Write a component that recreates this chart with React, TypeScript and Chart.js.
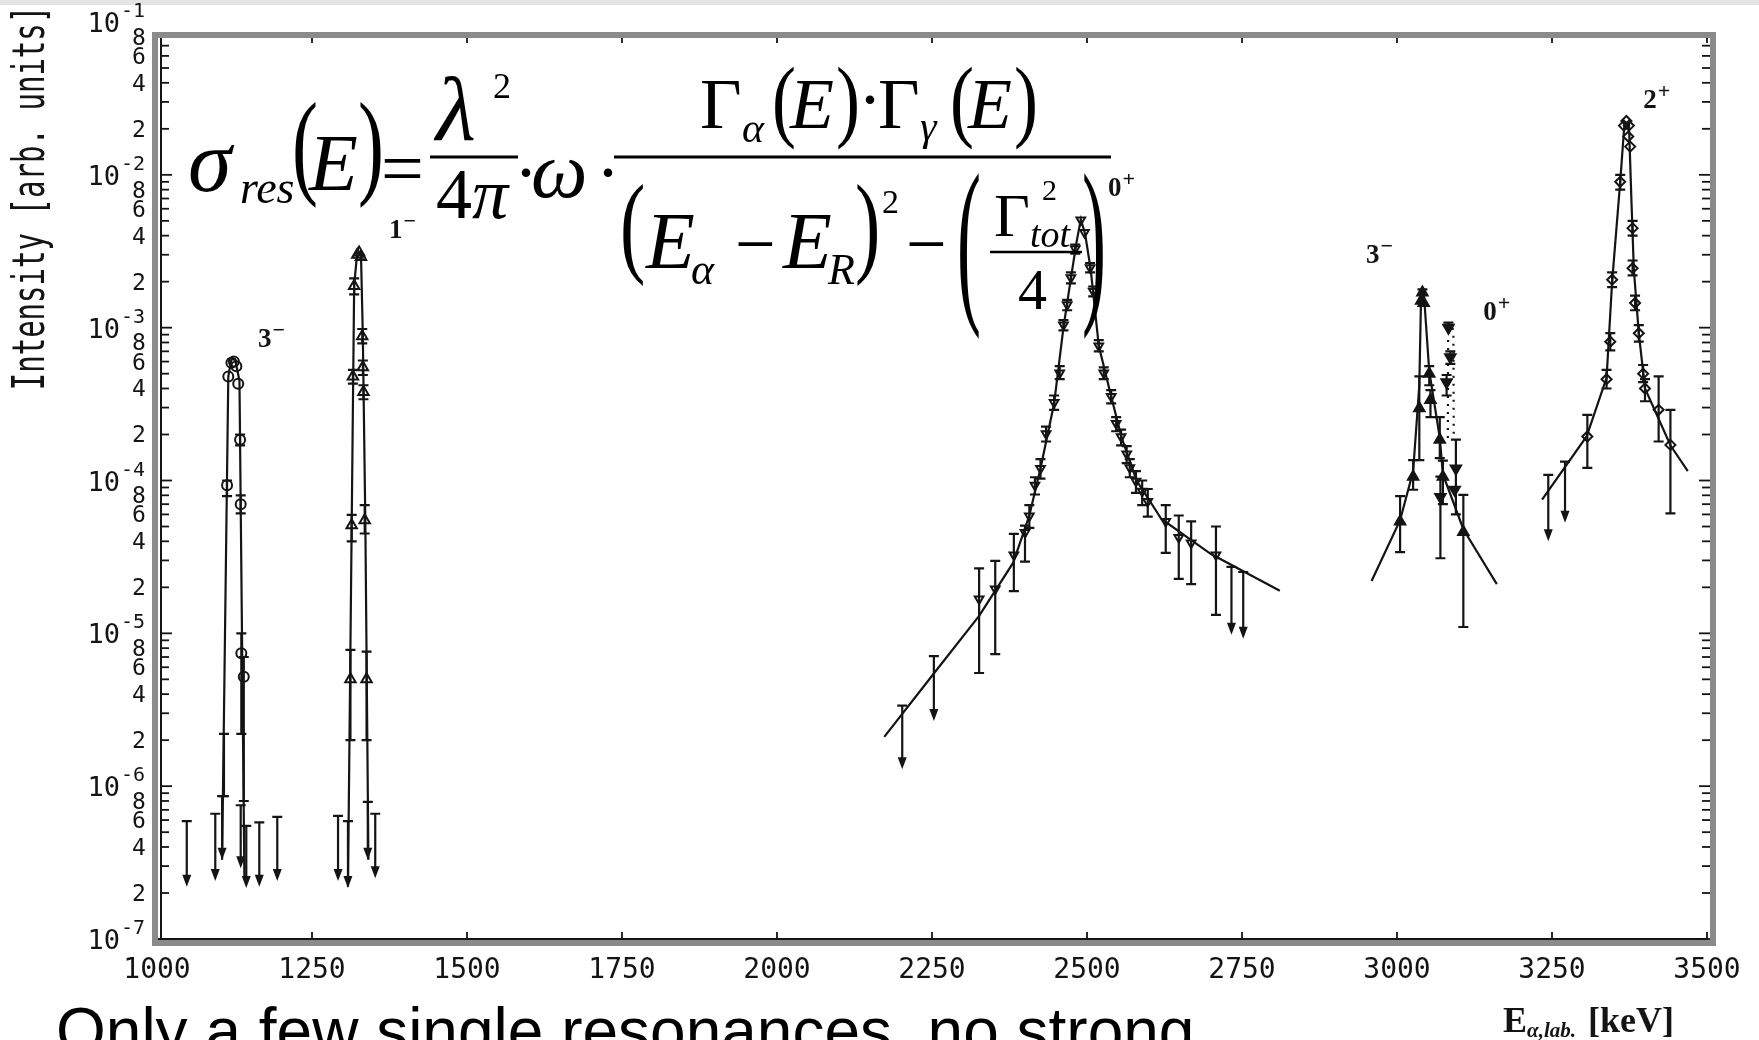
import React, { useEffect, useRef } from "react";
import { Chart, registerables } from "chart.js";

Chart.register(...registerables);

const W = 1759;
const H = 1040;
const INK = "#141414";
const MONO = '"DejaVu Sans Mono", monospace';
const SERIF = '"Liberation Serif", "Times New Roman", serif';
const SANS = '"Liberation Sans", Arial, sans-serif';

// ---- axes -----------------------------------------------------------------
const xMin = 1000;
const xMax = 3500;
const xTickValues = [1000, 1250, 1500, 1750, 2000, 2250, 2500, 2750, 3000, 3250, 3500];
const yDecades = [-7, -6, -5, -4, -3, -2, -1];
const yMinorLabels = [2, 4, 6, 8];

// ---- 3- resonance near 1120 keV (open circles) ------------------------------
const c1X = [1115, 1120, 1124, 1128, 1131, 1134, 1113, 1135, 1136, 1140];
const c1Y = [4.8e-4, 5.9e-4, 6.0e-4, 5.6e-4, 4.3e-4, 1.85e-4, 9.3e-5, 7.0e-5, 7.4e-6, 5.2e-6];
const c1Hi = [null, null, null, null, null, 2.0e-4, 1.0e-4, 8.0e-5, 1.0e-5, 7.0e-6];
const c1Lo = [null, null, null, null, null, 1.7e-4, 7.9e-5, 6.1e-5, 2.2e-6, 8.0e-7];
const c1FitX = [1105, 1115, 1120, 1126, 1133, 1141];
const c1FitY = [3.3e-7, 4.8e-4, 6.2e-4, 6.2e-4, 4.5e-4, 2.5e-7];

// bare error bar on the rising flank
const bareX = [1108];
const bareHi = [2.2e-6];
const bareLo = [8.6e-7];

// ---- 1- resonance near 1325 keV (open triangles) ----------------------------
const t1X = [1323, 1326, 1329, 1318, 1331, 1332, 1316, 1333, 1314, 1335, 1312, 1338];
const t1Y = [3.0e-3, 3.1e-3, 2.9e-3, 1.87e-3, 8.8e-4, 5.5e-4, 4.8e-4, 3.8e-4, 5.1e-5, 5.5e-5, 5.0e-6, 5.0e-6];
const t1Hi = [null, null, null, 2.1e-3, 9.8e-4, 6.1e-4, 5.3e-4, 4.2e-4, 5.95e-5, 6.9e-5, 7.8e-6, 7.6e-6];
const t1Lo = [null, null, null, 1.65e-3, 7.9e-4, 4.9e-4, 4.3e-4, 3.4e-4, 4.0e-5, 4.5e-5, 2.0e-6, 2.0e-6];
const t1FitX = [1308, 1314, 1318, 1323, 1329, 1332, 1336, 1341];
const t1FitY = [2.2e-7, 5.1e-5, 1.9e-3, 3.1e-3, 3.0e-3, 8.8e-4, 5.5e-5, 3.3e-7];

// upper limits below both narrow resonances
const ulLowX = [1048, 1094, 1105, 1135, 1144, 1165, 1194, 1292, 1308, 1340, 1352];
const ulLowTop = [5.9e-7, 6.6e-7, 8.6e-7, 7.5e-7, 5.5e-7, 5.8e-7, 6.3e-7, 6.4e-7, 5.9e-7, 7.9e-7, 6.6e-7];
const ulLowTip = [2.2e-7, 2.4e-7, 3.3e-7, 2.9e-7, 2.16e-7, 2.2e-7, 2.4e-7, 2.4e-7, 2.16e-7, 3.3e-7, 2.5e-7];

// ---- broad 0+ resonance near 2490 keV (open down-triangles) -----------------
const d0X = [2326, 2352, 2382, 2400, 2407, 2416, 2425, 2434, 2447, 2456, 2462, 2468, 2474, 2481, 2490, 2496,
  2505, 2510, 2519, 2527, 2539, 2547, 2555, 2564, 2569, 2579, 2589, 2598, 2627, 2648, 2668, 2708];
const d0Y = [1.68e-5, 1.95e-5, 3.26e-5, 4.57e-5, 5.85e-5, 9.3e-5, 1.2e-4, 2.02e-4, 3.24e-4, 5.06e-4, 1.04e-3,
  1.41e-3, 2.12e-3, 3.28e-3, 5.07e-3, 4.2e-3, 2.47e-3, 1.73e-3, 7.6e-4, 5.06e-4, 3.55e-4, 2.36e-4, 1.93e-4,
  1.49e-4, 1.21e-4, 9.9e-5, 8.5e-5, 7.3e-5, 5.4e-5, 4.23e-5, 3.9e-5, 3.26e-5];
const d0Hi = [2.66e-5, 2.98e-5, 4.47e-5, 5.07e-5, 6.9e-5, 1.05e-4, 1.38e-4, 2.25e-4, 3.6e-4, 5.6e-4, 1.12e-3,
  1.52e-3, 2.3e-3, 3.5e-3, null, null, 2.65e-3, 1.86e-3, 8.3e-4, 5.5e-4, 3.9e-4, 2.6e-4, 2.15e-4, 1.68e-4,
  1.38e-4, 1.15e-4, 1.0e-4, 8.8e-5, 6.9e-5, 5.9e-5, 5.4e-5, 5.0e-5];
const d0Lo = [5.5e-6, 7.3e-6, 1.89e-5, 2.95e-5, 4.9e-5, 8.1e-5, 1.03e-4, 1.8e-4, 2.9e-4, 4.6e-4, 9.6e-4, 1.3e-3,
  1.95e-3, 3.05e-3, null, null, 2.3e-3, 1.6e-3, 7.0e-4, 4.6e-4, 3.2e-4, 2.1e-4, 1.7e-4, 1.3e-4, 1.05e-4,
  8.3e-5, 6.9e-5, 5.8e-5, 3.36e-5, 2.27e-5, 2.1e-5, 1.32e-5];
const d0FitX = [2173, 2252, 2326, 2381, 2407, 2425, 2447, 2462, 2474, 2483, 2490, 2497, 2506, 2519, 2539, 2556,
  2580, 2620, 2700, 2811];
const d0FitY = [2.1e-6, 5.4e-6, 1.3e-5, 2.9e-5, 5.9e-5, 1.2e-4, 3.2e-4, 1.0e-3, 2.1e-3, 3.6e-3, 5.1e-3, 4.1e-3,
  2.4e-3, 7.6e-4, 3.55e-4, 1.9e-4, 1.0e-4, 5.6e-5, 3.3e-5, 1.9e-5];
const ulMidX = [2202, 2253, 2733, 2752];
const ulMidTop = [3.37e-6, 7.1e-6, 2.72e-5, 2.52e-5];
const ulMidTip = [1.29e-6, 2.67e-6, 9.8e-6, 9.2e-6];

// ---- 3- resonance near 3040 keV (filled triangles) --------------------------
const t3X = [3005, 3026, 3036, 3039, 3041, 3043, 3052, 3054, 3069, 3074, 3107];
const t3Y = [5.4e-5, 1.06e-4, 2.97e-4, 1.5e-3, 1.7e-3, 1.45e-3, 5.0e-4, 3.36e-4, 1.85e-4, 1.06e-4, 4.6e-5];
const t3Hi = [7.9e-5, 1.36e-4, 4.8e-4, null, 1.78e-3, null, 5.6e-4, 3.9e-4, 2.6e-4, 1.35e-4, 8.05e-5];
const t3Lo = [3.4e-5, 8.7e-5, 1.36e-4, null, null, null, 4.2e-4, 2.6e-4, 1.4e-4, 7.0e-5, 1.1e-5];
const t3FitX = [2959, 3005, 3026, 3036, 3039, 3043, 3052, 3069, 3074, 3107, 3161];
const t3FitY = [2.2e-5, 5.5e-5, 1.15e-4, 4.2e-4, 1.75e-3, 1.75e-3, 5.2e-4, 1.9e-4, 1.1e-4, 4.8e-5, 2.1e-5];

// ---- 0+ resonance near 3086 keV (filled down-triangles, dotted fit) --------
const v3X = [3083, 3086, 3080, 3095, 3070, 3093];
const v3Y = [1.0e-3, 6.4e-4, 4.4e-4, 1.2e-4, 7.8e-5, 8.7e-5];
const v3Hi = [1.08e-3, 7.0e-4, 4.9e-4, 1.85e-4, 1.06e-4, null];
const v3Lo = [null, 5.8e-4, 3.6e-4, 6.0e-5, 3.1e-5, null];
const v3FitX = [3082, 3082.5, 3084, 3089, 3091, 3091.5];
const v3FitY = [1.9e-4, 9.0e-4, 1.05e-3, 1.05e-3, 9.0e-4, 1.9e-4];

// ---- 2+ resonance near 3370 keV (open diamonds) -----------------------------
const r2X = [3366, 3370, 3374, 3373, 3376, 3360, 3347, 3344, 3338, 3307, 3380, 3380, 3384, 3390, 3397, 3400, 3422, 3441];
const r2Y = [2.1e-2, 2.25e-2, 2.1e-2, 1.78e-2, 1.53e-2, 9.0e-3, 2.06e-3, 8.1e-4, 4.6e-4, 1.94e-4, 4.48e-3,
  2.45e-3, 1.45e-3, 9.2e-4, 5.0e-4, 4.0e-4, 2.9e-4, 1.71e-4];
const r2Hi = [null, null, null, null, null, 1.0e-2, 2.3e-3, 9.2e-4, 5.3e-4, 2.69e-4, 5.0e-3, 2.75e-3, 1.62e-3,
  1.04e-3, 5.7e-4, 4.6e-4, 4.8e-4, 2.9e-4];
const r2Lo = [null, null, null, null, null, 8.0e-3, 1.84e-3, 7.1e-4, 4.0e-4, 1.21e-4, 4.0e-3, 2.2e-3, 1.3e-3,
  8.1e-4, 4.4e-4, 3.3e-4, 1.8e-4, 6.1e-5];
const r2FitX = [3234, 3306, 3338, 3347, 3360, 3367, 3374, 3378, 3382, 3390, 3400, 3441, 3469];
const r2FitY = [7.5e-5, 1.95e-4, 4.7e-4, 2.0e-3, 9.0e-3, 2.2e-2, 2.2e-2, 7.0e-3, 2.4e-3, 9.2e-4, 4.0e-4, 1.7e-4, 1.15e-4];
const ulHighX = [3244, 3271];
const ulHighTop = [1.09e-4, 1.33e-4];
const ulHighTip = [4.0e-5, 5.3e-5];

// ---- spin/parity labels ------------------------------------------------------
const jpDigit = ["3", "1", "0", "3", "0", "2"];
const jpSign = ["\u2212", "\u2212", "+", "\u2212", "+", "+"];
const jpAtKeV = [1163, 1374, 2534, 2950, 3139, 3397];
const jpAtI = [7.5e-4, 3.87e-3, 7.3e-3, 2.65e-3, 1.12e-3, 2.74e-2];

const pts = (xs: number[], ys: number[]) => xs.map((x, i) => ({ x, y: ys[i] }));

const fitLine = (xs: number[], ys: number[], dash: number[] = []) => ({
  data: pts(xs, ys),
  showLine: true,
  borderColor: INK,
  borderWidth: 2.2,
  borderDash: dash,
  pointRadius: 0,
  fill: false,
  tension: 0,
});

const markers = (xs: number[], ys: number[], style: string, radius: number, filled: boolean, rotation = 0) => ({
  data: pts(xs, ys),
  showLine: false,
  pointStyle: style,
  pointRadius: radius,
  pointRotation: rotation,
  pointBorderColor: INK,
  pointBorderWidth: 2,
  pointBackgroundColor: filled ? INK : "rgba(255,255,255,0)",
});

const barSets = [
  { x: c1X, y: c1Y, hi: c1Hi, lo: c1Lo },
  { x: t1X, y: t1Y, hi: t1Hi, lo: t1Lo },
  { x: d0X, y: d0Y, hi: d0Hi, lo: d0Lo },
  { x: t3X, y: t3Y, hi: t3Hi, lo: t3Lo },
  { x: v3X, y: v3Y, hi: v3Hi, lo: v3Lo },
  { x: r2X, y: r2Y, hi: r2Hi, lo: r2Lo },
  { x: bareX, y: bareHi, hi: bareHi, lo: bareLo },
];
const limitSets = [
  { x: ulLowX, top: ulLowTop, tip: ulLowTip },
  { x: ulMidX, top: ulMidTop, tip: ulMidTip },
  { x: ulHighX, top: ulHighTop, tip: ulHighTip },
];

const decor = {
  id: "decor",
  beforeDraw(chart: any) {
    const { ctx, width, height } = chart;
    ctx.save();
    ctx.fillStyle = "#ffffff";
    ctx.fillRect(0, 0, width, height);
    ctx.fillStyle = "#e4e4e4";
    ctx.fillRect(0, 0, width, 5);
    ctx.restore();
  },
  afterDatasetsDraw(chart: any) {
    const { ctx } = chart;
    const px = (v: number) => chart.scales.x.getPixelForValue(v);
    const py = (v: number) => chart.scales.y.getPixelForValue(v);
    ctx.save();
    ctx.strokeStyle = INK;
    ctx.fillStyle = INK;
    ctx.lineWidth = 2.2;
    const cap = 5;
    for (const s of barSets) {
      s.x.forEach((xv, i) => {
        const hi = s.hi[i];
        const lo = s.lo[i];
        if (hi == null && lo == null) return;
        const x = px(xv);
        const y1 = py(hi ?? s.y[i]);
        const y2 = py(lo ?? s.y[i]);
        ctx.beginPath();
        ctx.moveTo(x, y1);
        ctx.lineTo(x, y2);
        if (hi != null) { ctx.moveTo(x - cap, y1); ctx.lineTo(x + cap, y1); }
        if (lo != null) { ctx.moveTo(x - cap, y2); ctx.lineTo(x + cap, y2); }
        ctx.stroke();
      });
    }
    for (const s of limitSets) {
      s.x.forEach((xv, i) => {
        const x = px(xv);
        const yt = py(s.top[i]);
        const yb = py(s.tip[i]);
        ctx.beginPath();
        ctx.moveTo(x, yt);
        ctx.lineTo(x, yb - 8);
        ctx.moveTo(x - cap, yt);
        ctx.lineTo(x + cap, yt);
        ctx.stroke();
        ctx.beginPath();
        ctx.moveTo(x - 4.5, yb - 12);
        ctx.lineTo(x + 4.5, yb - 12);
        ctx.lineTo(x, yb);
        ctx.closePath();
        ctx.fill();
      });
    }
    ctx.restore();
  },
  afterDraw(chart: any) {
    const { ctx, chartArea: a } = chart;
    const px = (v: number) => chart.scales.x.getPixelForValue(v);
    const py = (v: number) => chart.scales.y.getPixelForValue(v);
    const seg = (x1: number, y1: number, x2: number, y2: number) => {
      ctx.beginPath();
      ctx.moveTo(x1, y1);
      ctx.lineTo(x2, y2);
      ctx.stroke();
    };
    const frameTop = a.top + 13;
    ctx.save();
    ctx.strokeStyle = INK;
    ctx.fillStyle = INK;

    // axis lines and tick marks
    const ax = a.left + 4;
    ctx.lineWidth = 2;
    seg(ax, frameTop, ax, a.bottom);
    seg(a.left, a.bottom, a.right, a.bottom);
    ctx.lineWidth = 1.8;
    for (const d of yDecades) {
      for (let m = 1; m <= 9; m++) {
        if (d === -1 && m > 1) break;
        const y = py(m * Math.pow(10, d));
        if (y < frameTop) continue;
        const len = m === 1 ? 11 : 8;
        seg(ax, y, ax + len, y);
        seg(a.right + 3 - len, y, a.right + 3, y);
      }
    }
    for (const v of xTickValues) {
      seg(px(v), a.bottom, px(v), a.bottom - 7);
      seg(px(v), a.top + 15, px(v), a.top + 21);
    }

    // tick labels
    ctx.textBaseline = "alphabetic";
    ctx.font = `28px ${MONO}`;
    ctx.textAlign = "center";
    for (const v of xTickValues) ctx.fillText(String(v), px(v), a.bottom + 39);
    for (const d of yDecades) {
      const y = py(Math.pow(10, d));
      ctx.font = `27px ${MONO}`;
      ctx.textAlign = "right";
      ctx.fillText("10", ax - 41, y + 10);
      ctx.font = `20px ${MONO}`;
      ctx.textAlign = "left";
      ctx.fillText("-" + String(-d), ax - 40, y - 5);
      if (d === -1) continue;
      ctx.font = `23px ${MONO}`;
      ctx.textAlign = "center";
      for (const m of yMinorLabels) ctx.fillText(String(m), ax - 22, py(m * Math.pow(10, d)) + 8);
    }

    // y title
    ctx.save();
    ctx.translate(33, 198);
    ctx.rotate(-Math.PI / 2);
    ctx.scale(0.66, 1);
    ctx.font = `44px ${MONO}`;
    ctx.textAlign = "center";
    ctx.textBaseline = "middle";
    ctx.fillText("Intensity [arb. units]", 0, 0);
    ctx.restore();

    // x title
    let tx = a.right - 204;
    const ty = a.bottom + 93;
    ctx.textAlign = "left";
    ctx.font = `bold 36px ${SERIF}`;
    ctx.fillText("E", tx, ty);
    tx += ctx.measureText("E").width;
    ctx.font = `italic bold 21px ${SERIF}`;
    ctx.fillText("\u03b1,lab.", tx, ty + 5);
    tx += ctx.measureText("\u03b1,lab.").width + 12;
    ctx.font = `bold 36px ${SERIF}`;
    ctx.fillText("[keV]", tx, ty);

    // spin/parity labels
    jpDigit.forEach((t, i) => {
      const x = px(jpAtKeV[i]);
      const y = py(jpAtI[i]);
      ctx.font = `bold 27px ${SERIF}`;
      ctx.fillText(t, x, y);
      const w = ctx.measureText(t).width;
      ctx.font = `bold 22px ${SERIF}`;
      ctx.fillText(jpSign[i], x + w + 1, y - 10);
    });

    // slide frame around the plot
    ctx.strokeStyle = "#8a8a8a";
    ctx.lineWidth = 6;
    ctx.strokeRect(a.left - 2, frameTop, a.right - a.left + 8, a.bottom + 4 - frameTop);
    ctx.restore();
  },
};

function T(props: { x: number; y: number; s: number; it?: boolean; children: React.ReactNode }) {
  return (
    <text x={props.x} y={props.y} fontSize={props.s} fontStyle={props.it ? "italic" : "normal"}
      fontFamily={SERIF} fill="#000">{props.children}</text>
  );
}

// stretched delimiter spanning [top, bottom]
function Paren(props: { ch: string; x: number; top: number; bottom: number; s?: number }) {
  const s = props.s ?? 72;
  const k = (props.bottom - props.top) / (0.853 * s);
  const base = props.top + 0.676 * s * k;
  return (
    <text transform={`translate(${props.x},${base}) scale(1,${k})`} fontSize={s} fontFamily={SERIF} fill="#000">
      {props.ch}
    </text>
  );
}

function Formula() {
  return (
    <g>
      <T x={188} y={191} s={88} it>σ</T>
      <T x={240} y={203} s={46} it>res</T>
      <Paren ch="(" x={292} top={104} bottom={204} s={78} />
      <T x={309} y={190} s={80} it>E</T>
      <Paren ch=")" x={358} top={104} bottom={204} s={78} />
      <T x={381} y={194} s={76}>=</T>
      <T x={436} y={140} s={92} it>λ</T>
      <T x={493} y={98} s={36}>2</T>
      <line x1={430} x2={518} y1={157} y2={157} stroke="#000" strokeWidth={3} />
      <T x={436} y={218} s={72}>4</T>
      <T x={472} y={218} s={72} it>π</T>
      <T x={514} y={197} s={72}>·</T>
      <T x={531} y={197} s={80} it>ω</T>
      <T x={596} y={197} s={72}>·</T>
      <line x1={614} x2={1111} y1={157} y2={157} stroke="#000" strokeWidth={3} />

      <T x={700} y={128} s={72}>Γ</T>
      <T x={742} y={142} s={42} it>α</T>
      <Paren ch="(" x={772} top={68} bottom={146} />
      <T x={790} y={128} s={72} it>E</T>
      <Paren ch=")" x={836} top={68} bottom={146} />
      <T x={858} y={124} s={72}>·</T>
      <T x={878} y={128} s={72}>Γ</T>
      <T x={920} y={140} s={42} it>γ</T>
      <Paren ch="(" x={950} top={68} bottom={146} />
      <T x={968} y={128} s={72} it>E</T>
      <Paren ch=")" x={1014} top={68} bottom={146} />

      <Paren ch="(" x={620} top={186} bottom={282} s={76} />
      <T x={646} y={268} s={80} it>E</T>
      <T x={691} y={284} s={44} it>α</T>
      <T x={735} y={268} s={72}>−</T>
      <T x={783} y={268} s={80} it>E</T>
      <T x={828} y={284} s={44} it>R</T>
      <Paren ch=")" x={855} top={186} bottom={282} s={76} />
      <T x={882} y={213} s={34}>2</T>
      <T x={906} y={268} s={72}>−</T>
      <Paren ch="(" x={957} top={176} bottom={332} />
      <T x={994} y={236} s={62}>Γ</T>
      <T x={1042} y={200} s={30}>2</T>
      <T x={1030} y={247} s={38} it>tot</T>
      <line x1={990} x2={1082} y1={252} y2={252} stroke="#000" strokeWidth={2.5} />
      <T x={1018} y={309} s={58}>4</T>
      <Paren ch=")" x={1082} top={176} bottom={332} />
    </g>
  );
}

export default function App() {
  const ref = useRef<HTMLCanvasElement | null>(null);

  useEffect(() => {
    if (!ref.current) return;
    const chart = new Chart(ref.current, {
      type: "scatter",
      data: {
        datasets: [
          fitLine(c1FitX, c1FitY),
          fitLine(t1FitX, t1FitY),
          fitLine(d0FitX, d0FitY),
          fitLine(t3FitX, t3FitY),
          fitLine(v3FitX, v3FitY, [2, 6]),
          fitLine(r2FitX, r2FitY),
          markers(c1X, c1Y, "circle", 5, false),
          markers(t1X, t1Y, "triangle", 6, false),
          markers(d0X, d0Y, "triangle", 5, false, 180),
          markers(t3X, t3Y, "triangle", 6, true),
          markers(v3X, v3Y, "triangle", 6, true, 180),
          markers(r2X, r2Y, "rectRot", 5, false),
        ] as any,
      },
      options: {
        responsive: false,
        animation: false,
        devicePixelRatio: 1,
        events: [],
        layout: { padding: { left: 157, right: W - 1707, top: 22, bottom: H - 939 } },
        plugins: { legend: { display: false }, tooltip: { enabled: false } },
        scales: {
          x: { type: "linear", min: xMin, max: xMax, display: false },
          y: { type: "logarithmic", min: 1e-7, max: 1e-1, display: false },
        },
      },
      plugins: [decor],
    } as any);
    return () => chart.destroy();
  }, []);

  return (
    <div style={{ position: "absolute", left: 0, top: 0, width: W, height: H, background: "#fff", overflow: "hidden" }}>
      <canvas ref={ref} width={W} height={H} style={{ position: "absolute", left: 0, top: 0, width: W, height: H }} />
      <svg width={W} height={H} style={{ position: "absolute", left: 0, top: 0, pointerEvents: "none" }}>
        <Formula />
        <text x={56} y={1053} fontSize={64} fontFamily={SANS} fill="#000">
          Only a few single resonances, no strong
        </text>
      </svg>
    </div>
  );
}
